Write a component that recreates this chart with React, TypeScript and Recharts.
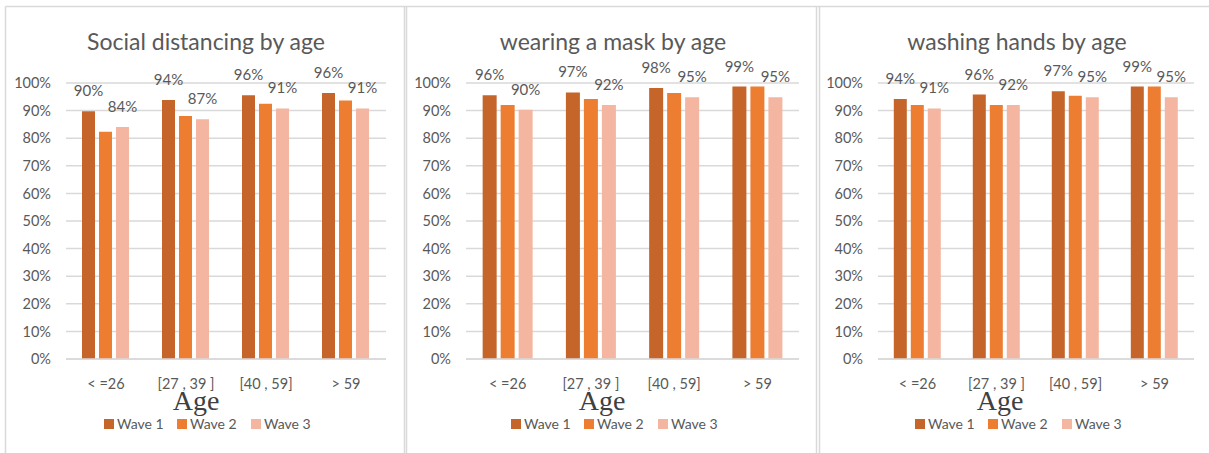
import React from 'react';
import { BarChart, Bar, XAxis, YAxis, CartesianGrid, LabelList } from 'recharts';

const categories = ['< =26', '[27 , 39 ]', '[40 , 59]', '> 59'];
const yTicks = [0, 10, 20, 30, 40, 50, 60, 70, 80, 90, 100];
const seriesNames = ['Wave 1', 'Wave 2', 'Wave 3'];
const seriesColors = ['#C5652A', '#ED7D31', '#F4B6A0'];

const socialWave1 = [89.8, 93.8, 95.6, 96.4];
const socialWave2 = [82.3, 88.0, 92.5, 93.7];
const socialWave3 = [84.1, 86.9, 90.8, 90.8];

const maskWave1 = [95.6, 96.6, 98.2, 98.7];
const maskWave2 = [92.0, 94.2, 96.4, 98.7];
const maskWave3 = [90.3, 92.0, 94.8, 94.8];

const handsWave1 = [94.2, 95.8, 97.0, 98.7];
const handsWave2 = [92.0, 92.0, 95.4, 98.7];
const handsWave3 = [90.8, 92.0, 94.8, 94.8];

const titles = ['Social distancing by age', 'wearing a mask by age', 'washing hands by age'];
const axisTitle = 'Age';

const build = (a: number[], b: number[], c: number[]) =>
  categories.map((cat, i) => ({ cat, w1: a[i], w2: b[i], w3: c[i] }));

const panels = [
  { data: build(socialWave1, socialWave2, socialWave3), left: 6, width: 398, yw: 60, mr: 18, titleX: 206, ageX: 196, legendX: 104 },
  { data: build(maskWave1, maskWave2, maskWave3), left: 406, width: 411, yw: 60, mr: 18, titleX: 613, ageX: 602, legendX: 511 },
  { data: build(handsWave1, handsWave2, handsWave3), left: 819, width: 390, yw: 59, mr: 15, titleX: 1017, ageX: 1000, legendX: 915 },
];

const TEXT = '#595959';
const GRID = '#D9D9D9';
const FONT = 'Lato, "Open Sans", sans-serif';

const pct = (v: any) => `${Math.round(Number(v))}%`;

export default function App() {
  return (
    <div style={{ position: 'absolute', left: 0, top: 0, width: 1209, height: 453, background: '#fff', overflow: 'hidden', fontFamily: FONT }}>
      {panels.map((p, idx) => (
        <div key={idx} style={{ position: 'absolute', left: p.left, top: 0 }}>
          <BarChart
            width={p.width}
            height={453}
            data={p.data}
            margin={{ top: 83, right: p.mr, bottom: 64, left: 0 }}
            barCategoryGap="20%"
            barGap={4}
          >
            <CartesianGrid vertical={false} stroke={GRID} strokeWidth={1.5} />
            <XAxis
              dataKey="cat"
              height={30}
              tickSize={0}
              tickMargin={20}
              axisLine={{ stroke: GRID, strokeWidth: 1.5 }}
              tickLine={false}
              tick={{ fill: TEXT, fontSize: 14.5, fontFamily: FONT }}
              interval={0}
            />
            <YAxis
              width={p.yw}
              domain={[0, 100]}
              ticks={yTicks}
              tickFormatter={(v: number) => `${v}%`}
              tickSize={0}
              tickMargin={15}
              axisLine={false}
              tickLine={false}
              tick={{ fill: TEXT, fontSize: 14.5, fontFamily: FONT }}
              interval={0}
            />
            <Bar dataKey="w1" name={seriesNames[0]} fill={seriesColors[0]} isAnimationActive={false}>
              <LabelList dataKey="w1" position="top" offset={15} formatter={pct} fill={TEXT} fontSize={15} fontFamily={FONT} />
            </Bar>
            <Bar dataKey="w2" name={seriesNames[1]} fill={seriesColors[1]} isAnimationActive={false} />
            <Bar dataKey="w3" name={seriesNames[2]} fill={seriesColors[2]} isAnimationActive={false}>
              <LabelList dataKey="w3" position="top" offset={15} formatter={pct} fill={TEXT} fontSize={15} fontFamily={FONT} />
            </Bar>
          </BarChart>
        </div>
      ))}
      <svg width={1209} height={453} style={{ position: 'absolute', left: 0, top: 0, pointerEvents: 'none' }}>
        <line x1={5.5} y1={6.5} x2={1209} y2={6.5} stroke={GRID} strokeWidth={1.5} />
        <line x1={5.5} y1={6.5} x2={5.5} y2={453} stroke={GRID} strokeWidth={1.5} />
        <line x1={404.5} y1={6.5} x2={404.5} y2={453} stroke={GRID} strokeWidth={1.5} />
        <line x1={406.5} y1={6.5} x2={406.5} y2={453} stroke={GRID} strokeWidth={1.5} />
        <line x1={816.5} y1={6.5} x2={816.5} y2={453} stroke={GRID} strokeWidth={1.5} />
        <line x1={819.5} y1={6.5} x2={819.5} y2={453} stroke={GRID} strokeWidth={1.5} />
        {panels.map((p, idx) => (
          <g key={idx}>
            <text x={p.titleX} y={50} textAnchor="middle" fill={TEXT} fontSize={23} fontFamily={FONT}>{titles[idx]}</text>
            <text x={p.ageX} y={410} textAnchor="middle" fill="#404040" fontSize={28} fontFamily='"Liberation Serif", "Times New Roman", serif'>{axisTitle}</text>
            {seriesNames.map((s, i) => {
              const off = [0, 73, 147][i];
              return (
                <g key={s}>
                  <rect x={p.legendX + off} y={419} width={10} height={10} fill={seriesColors[i]} />
                  <text x={p.legendX + off + 13} y={429} fill={TEXT} fontSize={14} fontFamily={FONT}>{s}</text>
                </g>
              );
            })}
          </g>
        ))}
      </svg>
    </div>
  );
}
